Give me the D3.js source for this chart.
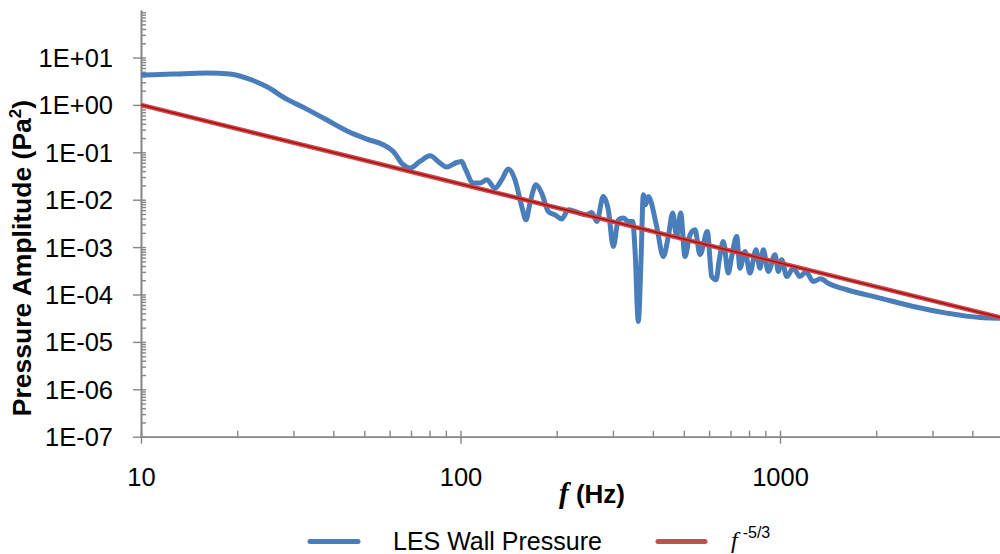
<!DOCTYPE html>
<html>
<head>
<meta charset="utf-8">
<script src="https://cdn.jsdelivr.net/npm/d3@7"></script>
<style>
  body { margin: 0; background: #fff; }
  text { font-family: "Liberation Sans", Arial, sans-serif; fill: #000; }
</style>
</head>
<body>
<script>

/* ---------------------------- */
/* DATA                         */
/* ---------------------------- */

// Wall pressure spectrum from the LES run (Hz, Pa^2)
const freq = [10, 12.6, 16.1, 19.0, 21.4, 24.7, 28.6, 33.0, 38.1, 44.0, 50.9, 57.3, 61.6, 66.2, 69.5,
              74.6, 80.3, 86.3, 90.5, 97.3, 100.9, 103.3, 109.6, 115.1, 120.8, 128.2, 134.6, 141.1,
              148.1, 155.5, 160.3, 165.0, 172.3, 179.5, 188.3, 197.6, 207.4, 217.6, 228.2, 239.4,
              248.3, 257.4, 266.9, 279.9, 290.1, 300.8, 311.9, 323.3, 335.2, 345.9, 351.7, 360.2,
              367.3, 373.4, 379.4, 387.1, 411.2, 431.2, 447.1, 461.5, 475.0, 488.9, 504.3, 522.8,
              542.0, 561.8, 592.2, 611.3, 630.5, 645.7, 664.5, 688.9, 706.0, 731.9, 749.5, 777.1,
              805.5, 841.1, 865.7, 886.5, 919.1, 964.7, 988.0, 1012, 1050, 1101, 1155, 1206, 1271,
              1340, 1420, 1618, 2056, 2614, 3325, 4227, 5000];
const amp  = [4.26, 4.47, 4.69, 4.47, 3.67, 2.44, 1.32, 0.815, 0.485, 0.284, 0.190, 0.144, 0.104, 0.0545, 0.0464,
              0.064, 0.0843, 0.0592, 0.0487, 0.0609, 0.064, 0.0464, 0.0224, 0.0224, 0.0263, 0.0176, 0.0263, 0.0442,
              0.0263, 0.0072, 0.00377, 0.00848, 0.0206, 0.0138, 0.00564, 0.0048, 0.0039, 0.00612, 0.00564, 0.00505,
              0.0048, 0.00537, 0.00347, 0.0117, 0.00612, 0.00103, 0.00377, 0.00409, 0.00347, 0.00347, 0.000877, 2.69e-5,
              0.00054, 0.01268, 0.0078, 0.0117, 0.00272, 0.000634, 0.00167, 0.00521, 0.00167, 0.00521, 0.000634, 0.00182,
              0.00232, 0.000689, 0.00213, 0.00024, 0.000204, 0.00054, 0.00131, 0.000283, 0.000634, 0.00167, 0.00036, 0.000807,
              0.000283, 0.000877, 0.00036, 0.000877, 0.000306, 0.000689, 0.000306, 0.00054, 0.00024, 0.00036, 0.00024, 0.000301, 0.000188,
              0.000215, 0.000170, 0.000126, 8.4e-5, 5.58e-5, 4.05e-5, 3.27e-5, 3.15e-5];

// f^-5/3 reference slope, anchored at 1 Pa^2 for 10 Hz
const refFreq = [10, 100, 1000, 5000];
const refAmp  = [1, 0.0215, 0.000464, 3.17e-5];

// Axis ticks
const xMajor = [10, 100, 1000];
const xLabels = ["10", "100", "1000"];
const yMajor = [1e1, 1e0, 1e-1, 1e-2, 1e-3, 1e-4, 1e-5, 1e-6, 1e-7];
const yLabels = ["1E+01", "1E+00", "1E-01", "1E-02", "1E-03", "1E-04", "1E-05", "1E-06", "1E-07"];

/* ---------------------------- */
/* CANVAS                       */
/* ---------------------------- */

const w = 1000;
const h = 554;
let margins = {top: 10.1, left: 141, bottom: 436.7};
const decadeX = 319.5; // px per decade along f
const decadeY = 47.4;  // px per decade along amplitude

let svg = d3.select("body")
    .append("svg")
        .attr("width", w)
        .attr("height", h);

// Log scales for both axes
let x = d3.scaleLog()
    .domain([10, 5000])
    .range([margins.left, margins.left + decadeX * Math.log10(500)]);
let y = d3.scaleLog()
    .domain([1e-7, 1e2])
    .range([margins.bottom, margins.bottom - 9 * decadeY]);

svg.append("clipPath")
        .attr("id", "plotClip")
    .append("rect")
        .attr("x", margins.left)
        .attr("y", 0)
        .attr("width", w - margins.left)
        .attr("height", margins.bottom + 2);

/* ---------------------------- */
/* AXES                         */
/* ---------------------------- */

const axisColor = "#868686";

// minor tick values 2..9 in each decade
function minors(lo, hi) {
    let out = [];
    for (let e = lo; e < hi; e++)
        for (let m = 2; m <= 9; m++) out.push(m * Math.pow(10, e));
    return out;
}
let xMinor = minors(1, 4).filter(v => v <= 5000);
let yMinor = minors(-7, 2);

function styleAxis(g) {
    g.select(".domain").attr("stroke", axisColor).attr("stroke-width", 1.6);
    g.selectAll(".tick line").attr("stroke", axisColor).attr("stroke-width", 1.4);
}

// y axis: minor ticks inside, majors crossing the line
svg.append("g")
    .attr("transform", "translate(" + margins.left + ",0)")
    .call(d3.axisRight(y).tickValues(yMinor).tickSize(5).tickFormat("").tickSizeOuter(0))
    .call(styleAxis);

let yAxis = svg.append("g")
    .attr("transform", "translate(" + margins.left + ",0)")
    .call(d3.axisLeft(y).tickValues(yMajor).tickSize(7).tickPadding(21)
        .tickFormat((d, i) => yLabels[i]).tickSizeOuter(0))
    .call(styleAxis);
yAxis.selectAll(".tick line").attr("x2", -8).attr("x1", 5);
yAxis.selectAll(".tick text")
    .attr("font-family", "Liberation Sans, Arial, sans-serif")
    .attr("font-size", "25.5px")
    .attr("fill", "#000")
    .attr("dy", "0.35em");

// x axis
svg.append("g")
    .attr("transform", "translate(0," + margins.bottom + ")")
    .call(d3.axisTop(x).tickValues(xMinor).tickSize(6).tickFormat("").tickSizeOuter(0))
    .call(styleAxis);

let xAxis = svg.append("g")
    .attr("transform", "translate(0," + margins.bottom + ")")
    .call(d3.axisBottom(x).tickValues(xMajor).tickSize(7).tickPadding(24)
        .tickFormat((d, i) => xLabels[i]).tickSizeOuter(0))
    .call(styleAxis);
xAxis.selectAll(".tick line").attr("y1", -6).attr("y2", 7);
xAxis.selectAll(".tick text")
    .attr("font-family", "Liberation Sans, Arial, sans-serif")
    .attr("font-size", "25.5px")
    .attr("fill", "#000");

// Axis titles
let xTitle = svg.append("text")
    .attr("x", 592)
    .attr("y", 503)
    .attr("text-anchor", "middle")
    .style("font-size", "26px")
    .style("font-weight", "bold");
xTitle.append("tspan")
    .style("font-family", "Liberation Serif, Times New Roman, serif")
    .style("font-style", "italic")
    .style("font-size", "29px")
    .text("f");
xTitle.append("tspan").text(" (Hz)");

let yTitle = svg.append("text")
    .attr("transform", "translate(31,258) rotate(-90)")
    .attr("text-anchor", "middle")
    .style("font-size", "26.5px")
    .style("font-weight", "bold");
yTitle.append("tspan").text("Pressure Amplitude (Pa");
yTitle.append("tspan").attr("dy", -10).style("font-size", "17px").text("2");
yTitle.append("tspan").attr("dy", 10).text(")");

/* ---------------------------- */
/* SERIES                       */
/* ---------------------------- */

const blue = "#4a7ebb";
const red = "#c0504d";

let specData = freq.map((f, i) => ({f: f, p: amp[i]}));
let refData = refFreq.map((f, i) => ({f: f, p: refAmp[i]}));

let smooth = d3.line()
    .x(d => x(d.f))
    .y(d => y(d.p))
    .curve(d3.curveMonotoneX);
let straight = d3.line()
    .x(d => x(d.f))
    .y(d => y(d.p));

let plot = svg.append("g").attr("clip-path", "url(#plotClip)");

plot.append("path")
    .datum(specData)
    .attr("d", smooth)
    .attr("fill", "none")
    .attr("stroke", blue)
    .attr("stroke-width", 5)
    .attr("stroke-linejoin", "round")
    .attr("stroke-linecap", "round");

// reference slope: red band with a darker core
plot.append("path")
    .datum(refData)
    .attr("d", straight)
    .attr("fill", "none")
    .attr("stroke", "#cf4a48")
    .attr("stroke-width", 4.5);
plot.append("path")
    .datum(refData)
    .attr("d", straight)
    .attr("fill", "none")
    .attr("stroke", "#a8141a")
    .attr("stroke-width", 1.6);

/* ---------------------------- */
/* LEGEND                       */
/* ---------------------------- */

let legend = svg.append("g");
legend.append("line")
    .attr("x1", 310).attr("x2", 358)
    .attr("y1", 541.5).attr("y2", 541.5)
    .attr("stroke", blue).attr("stroke-width", 5).attr("stroke-linecap", "round");
legend.append("text")
    .attr("x", 393).attr("y", 550)
    .style("font-size", "25px")
    .text("LES Wall Pressure");

legend.append("line")
    .attr("x1", 658).attr("x2", 705)
    .attr("y1", 541.5).attr("y2", 541.5)
    .attr("stroke", red).attr("stroke-width", 5).attr("stroke-linecap", "round");
let refLabel = legend.append("text")
    .attr("x", 731).attr("y", 548);
refLabel.append("tspan")
    .style("font-family", "Liberation Serif, Times New Roman, serif")
    .style("font-style", "italic")
    .style("font-size", "24px")
    .text("f");
refLabel.append("tspan")
    .attr("dx", 5).attr("dy", -10)
    .style("font-size", "16px")
    .text("-5/3");

</script>
</body>
</html>
